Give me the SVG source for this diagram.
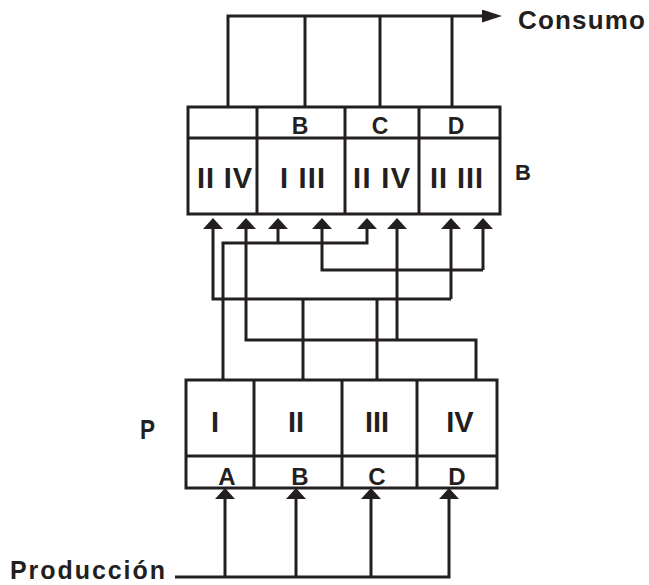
<svg xmlns="http://www.w3.org/2000/svg" width="649" height="585" viewBox="0 0 649 585">
<style>
.ln{fill:none;stroke:#231f20;stroke-width:3;stroke-linejoin:miter}
.bx{fill:#fff;stroke:#231f20;stroke-width:3}
.t{font-family:"Liberation Sans",Arial,sans-serif;font-weight:bold;fill:#231f20;text-anchor:middle}
.l{font-family:"Liberation Sans",Arial,sans-serif;font-weight:bold;fill:#231f20}
</style>
<defs>
<marker id="au" markerUnits="userSpaceOnUse" viewBox="0 0 11 20" markerWidth="11" markerHeight="20" refX="0" refY="10" orient="auto">
<path d="M0,0 L11,10 L0,20 Z" fill="#231f20"/>
</marker>
<marker id="ar" markerUnits="userSpaceOnUse" viewBox="0 0 20 13" markerWidth="20" markerHeight="13" refX="0" refY="6.5" orient="auto">
<path d="M0,0 L20,6.5 L0,13 Z" fill="#231f20"/>
</marker>
</defs>
<rect width="649" height="585" fill="#fff"/>
<g id="connectors">
<path class="ln" d="M228,107 V16 H482" marker-end="url(#ar)"/>
<path class="ln" d="M305,16 V107 M380,16 V107 M452,16 V107"/>
<path class="ln" d="M223,379 V243 H367 V229" marker-end="url(#au)"/>
<path class="ln" d="M278,243 V229" marker-end="url(#au)"/>
<path class="ln" d="M476,379 V340 H246 V229" marker-end="url(#au)"/>
<path class="ln" d="M397,340 V229" marker-end="url(#au)"/>
<path class="ln" d="M451,299 H213 V229" marker-end="url(#au)"/>
<path class="ln" d="M451,299 V229" marker-end="url(#au)"/>
<path class="ln" d="M303,379 V299 M377,379 V299"/>
<path class="ln" d="M483,270 H322 V229" marker-end="url(#au)"/>
<path class="ln" d="M483,270 V229" marker-end="url(#au)"/>
<path class="ln" d="M175,577 H449 V499" marker-end="url(#au)"/>
<path class="ln" d="M225,577 V499" marker-end="url(#au)"/>
<path class="ln" d="M296,577 V499" marker-end="url(#au)"/>
<path class="ln" d="M371,577 V499" marker-end="url(#au)"/>
</g>
<g id="node-B">
<rect class="bx" x="188" y="107" width="312" height="107"/>
<path class="ln" d="M188,138 H500 M257,107 V214 M345,107 V214 M419,107 V214"/>
<text class="t" x="300" y="134" font-size="23">B</text>
<text class="t" x="380" y="134" font-size="23">C</text>
<text class="t" x="456" y="134" font-size="23">D</text>
<text class="l" x="197" y="188" font-size="29" textLength="55" lengthAdjust="spacing">II IV</text>
<text class="l" x="280" y="188" font-size="29" textLength="45" lengthAdjust="spacing">I III</text>
<text class="l" x="353" y="188" font-size="29" textLength="57" lengthAdjust="spacing">II IV</text>
<text class="l" x="430" y="188" font-size="29" textLength="53" lengthAdjust="spacing">II III</text>
<text class="l" x="515" y="180" font-size="22">B</text>
</g>
<g id="node-P">
<rect class="bx" x="186" y="380" width="311" height="108"/>
<path class="ln" d="M186,456 H497 M254,380 V488 M342,380 V488 M417,380 V488"/>
<text class="t" x="215" y="432" font-size="29">I</text>
<text class="t" x="296" y="432" font-size="29">II</text>
<text class="t" x="377" y="432" font-size="29">III</text>
<text class="t" x="460" y="432" font-size="29">IV</text>
<text class="t" x="227" y="485" font-size="24">A</text>
<text class="t" x="300" y="485" font-size="24">B</text>
<text class="t" x="377" y="485" font-size="24">C</text>
<text class="t" x="457" y="485" font-size="24">D</text>
<text class="l" x="140" y="439" font-size="28" textLength="15" lengthAdjust="spacingAndGlyphs">P</text>
</g>
<g id="labels">
<text class="l" x="518" y="29" font-size="26" textLength="127" lengthAdjust="spacing">Consumo</text>
<text class="l" x="10" y="579" font-size="25" textLength="155" lengthAdjust="spacing">Producción</text>
</g>
</svg>
